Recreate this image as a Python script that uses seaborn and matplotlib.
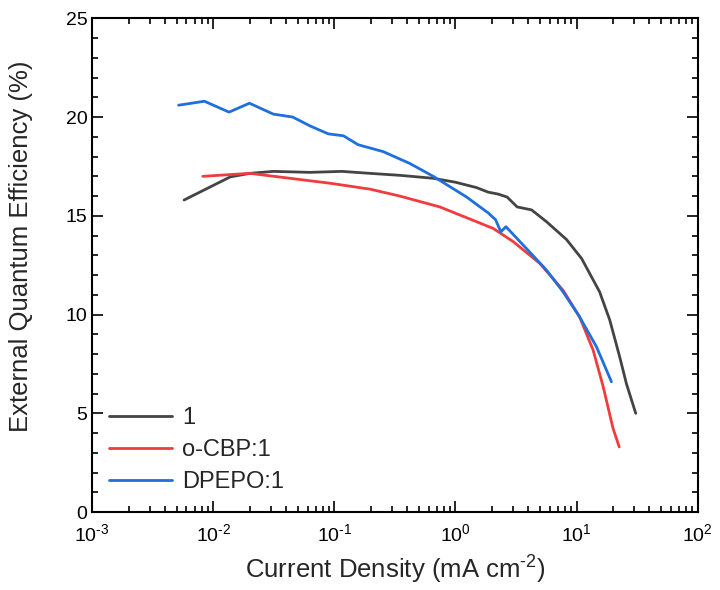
import numpy as np
import pandas as pd
import matplotlib
matplotlib.use("Agg")
import matplotlib.pyplot as plt
import matplotlib.ticker as mticker
import seaborn as sns

# current density (mA cm-2) and EQE (%)
j_1 = [0.00574, 0.0138, 0.0201, 0.0313, 0.063, 0.115, 0.197, 0.347, 0.655, 1.0, 1.49,
       1.86, 2.25, 2.67, 3.23, 4.25, 5.65, 8.26, 11.0, 15.5, 18.8, 22.7, 25.8, 30.8]
eqe_1 = [15.8, 16.97, 17.15, 17.25, 17.2, 17.25, 17.15, 17.05, 16.9, 16.7, 16.43,
         16.2, 16.1, 15.95, 15.45, 15.3, 14.7, 13.8, 12.84, 11.15, 9.72, 7.86, 6.5, 5.0]

j_cbp = [0.0082, 0.0201, 0.043, 0.092, 0.197, 0.347, 0.743, 1.23, 2.05, 2.99, 4.97,
         7.74, 10.6, 13.7, 16.6, 20.0, 22.5]
eqe_cbp = [17.0, 17.15, 16.9, 16.65, 16.35, 16.0, 15.45, 14.91, 14.36, 13.7, 12.59,
           11.23, 9.88, 8.2, 6.34, 4.24, 3.3]

j_dpepo = [0.00517, 0.00845, 0.0135, 0.0199, 0.0313, 0.0453, 0.063, 0.089, 0.119, 0.157,
           0.253, 0.42, 0.655, 1.23, 1.86, 2.14, 2.37, 2.61, 3.86, 5.65, 7.74, 10.6,
           14.6, 19.4]
eqe_dpepo = [20.6, 20.8, 20.25, 20.7, 20.15, 20.0, 19.55, 19.15, 19.05, 18.6,
             18.25, 17.65, 17.0, 15.96, 15.15, 14.81, 14.19, 14.45, 13.34, 12.25,
             11.15, 9.88, 8.37, 6.6]

labels = ["1", "o-CBP:1", "DPEPO:1"]
colors = ["#444444", "#f03c3c", "#1f6fdc"]

df = pd.concat([
    pd.DataFrame({"J": j_1, "EQE": eqe_1, "device": labels[0]}),
    pd.DataFrame({"J": j_cbp, "EQE": eqe_cbp, "device": labels[1]}),
    pd.DataFrame({"J": j_dpepo, "EQE": eqe_dpepo, "device": labels[2]}),
])

sns.set_style("ticks")
plt.rcParams["font.family"] = ["Liberation Sans", "DejaVu Sans"]
plt.rcParams["mathtext.fontset"] = "custom"
plt.rcParams["mathtext.rm"] = "Liberation Sans"
plt.rcParams["mathtext.it"] = "Liberation Sans"

fig = plt.figure(figsize=(7.2, 5.9), dpi=100)
ax = fig.add_axes([0.128, 0.132, 0.841, 0.837])

sns.lineplot(data=df, x="J", y="EQE", hue="device", palette=colors,
             sort=False, estimator=None, linewidth=2, ax=ax)

ax.set_xscale("log")
ax.set_xlim(1e-3, 1e2)
ax.set_ylim(0, 25)
ax.yaxis.set_major_locator(mticker.MultipleLocator(5))
ax.yaxis.set_minor_locator(mticker.MultipleLocator(1))
ax.xaxis.set_major_locator(mticker.LogLocator(base=10, numticks=10))
ax.xaxis.set_minor_locator(mticker.LogLocator(base=10, subs=np.arange(2, 10), numticks=20))
ax.xaxis.set_minor_formatter(mticker.NullFormatter())


def dec_label(v, pos):
    n = int(round(np.log10(v)))
    return "10$^{\\text{%d}}$" % n


ax.xaxis.set_major_formatter(mticker.FuncFormatter(dec_label))

for s in ax.spines.values():
    s.set_linewidth(1.5)
    s.set_color("black")
ax.tick_params(which="both", direction="in", top=True, right=True, width=1.2,
               colors="black", labelsize=14)
ax.tick_params(which="major", length=8)
ax.tick_params(which="minor", length=4.5)
ax.tick_params(axis="x", pad=8)

ax.set_xlabel("Current Density (mA cm$^{\\text{-2}}$)", fontsize=18.5, labelpad=6)
ax.set_ylabel("External Quantum Efficiency (%)", fontsize=18.5, labelpad=22)
ax.yaxis.set_label_coords(-0.098, 0.538)

leg = ax.legend(loc="lower left", frameon=False, fontsize=17, handlelength=2.7,
                handletextpad=0.4, labelspacing=0.42, borderaxespad=0.3,
                bbox_to_anchor=(0.0, 0.005))
for line in leg.get_lines():
    line.set_linewidth(2)

fig.savefig("out.png", dpi=100)
